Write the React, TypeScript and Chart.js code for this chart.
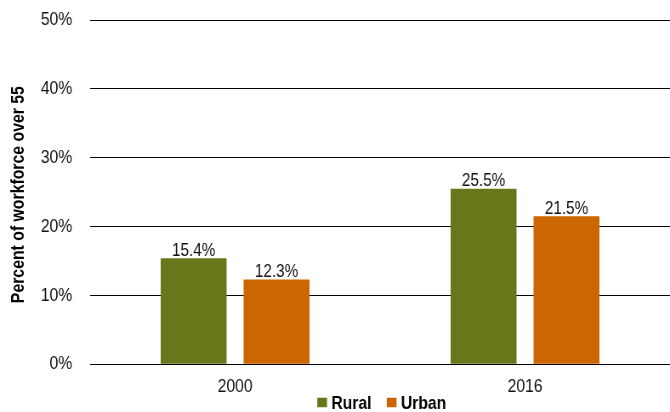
import React, { useEffect, useRef } from "react";
import { Chart, registerables } from "chart.js";

Chart.register(...registerables);

const categories = ["2000", "2016"];
const rural = [15.4, 25.5];
const urban = [12.3, 21.5];
const yTicks = [0, 10, 20, 30, 40, 50];
const seriesNames = ["Rural", "Urban"];
const seriesColors = ["#66781A", "#CC6600"];
const yTitle = "Percent of workforce over 55";

// The reference uses a narrow sans-serif; we emulate it by drawing on a wider
// canvas that is squeezed horizontally to the 670px display width.
const SQUEEZE = 0.85;
const CSS_W = 670;
const CSS_H = 412;
const LOGICAL_W = Math.round(CSS_W / SQUEEZE);

const FONT = "'Liberation Sans', Arial, sans-serif";

const labelPlugin = {
  id: "barLabels",
  afterDatasetsDraw(chart: any) {
    const ctx = chart.ctx;
    ctx.save();
    ctx.font = "18px " + FONT;
    ctx.fillStyle = "#111";
    ctx.textAlign = "center";
    ctx.textBaseline = "alphabetic";
    chart.data.datasets.forEach((ds: any, i: number) => {
      const meta = chart.getDatasetMeta(i);
      meta.data.forEach((bar: any, j: number) => {
        ctx.fillText(ds.data[j].toFixed(1) + "%", bar.x, bar.y - 2.5);
      });
    });
    ctx.restore();
  },
};

const titlePlugin = {
  id: "narrowYTitle",
  afterDraw(chart: any) {
    const ctx = chart.ctx;
    const area = chart.chartArea;
    ctx.save();
    ctx.font = "bold 18.6px " + FONT;
    ctx.fillStyle = "#000";
    ctx.textAlign = "center";
    ctx.textBaseline = "alphabetic";
    ctx.translate(24 / SQUEEZE, (area.top + area.bottom) / 2 + 2.5);
    ctx.rotate(-Math.PI / 2);
    ctx.scale(SQUEEZE, 1 / SQUEEZE);
    ctx.fillText(yTitle, 0, 0);
    ctx.restore();
  },
};

const legendPlugin = {
  id: "customLegend",
  afterDraw(chart: any) {
    const ctx = chart.ctx;
    const area = chart.chartArea;
    ctx.save();
    ctx.font = "bold 18.5px " + FONT;
    const boxW = 11.5;
    const boxH = 9.5;
    const gapText = 5;
    const gapItem = 18;
    const widths = seriesNames.map((n) => boxW + gapText + ctx.measureText(n).width);
    const total = widths.reduce((a, b) => a + b, 0) + gapItem * (seriesNames.length - 1);
    let x = (area.left + area.right) / 2 + 2 - total / 2;
    const cy = 402.5;
    ctx.textBaseline = "middle";
    ctx.textAlign = "left";
    seriesNames.forEach((n, i) => {
      ctx.fillStyle = seriesColors[i];
      ctx.fillRect(x, cy - boxH / 2, boxW, boxH);
      ctx.fillStyle = "#000";
      ctx.fillText(n, x + boxW + gapText, cy + 1);
      x += widths[i] + gapItem;
    });
    ctx.restore();
  },
};

export default function App() {
  const ref = useRef<HTMLCanvasElement>(null);
  useEffect(() => {
    const chart = new Chart(ref.current!, {
      type: "bar",
      data: {
        labels: categories,
        datasets: [
          { label: seriesNames[0], data: rural, backgroundColor: seriesColors[0] },
          { label: seriesNames[1], data: urban, backgroundColor: seriesColors[1] },
        ],
      },
      options: {
        animation: false,
        responsive: false,
        devicePixelRatio: 1,
        layout: { padding: { top: 20, left: 10, right: 0, bottom: 2.5 } },
        datasets: { bar: { categoryPercentage: 0.572, barPercentage: 0.795 } },
        plugins: {
          legend: { display: false },
          tooltip: { enabled: false },
        },
        scales: {
          x: {
            grid: { display: false, drawTicks: false },
            border: { display: false },
            ticks: {
              color: "#111",
              padding: 11.5,
              font: { family: FONT, size: 18.5 },
            },
          },
          y: {
            min: 0,
            max: 50,
            afterBuildTicks: (axis: any) => {
              axis.ticks = yTicks.map((v) => ({ value: v }));
            },
            afterFit: (axis: any) => {
              axis.width = 96;
              axis.paddingTop = 0;
              axis.paddingBottom = 0;
            },
            grid: { color: "#000", lineWidth: 1, drawTicks: false },
            border: { display: false },
            ticks: {
              color: "#111",
              padding: 21,
              font: { family: FONT, size: 18.5 },
              callback: (v: any) => v + "%",
            },
            title: { display: false },
          },
        },
      },
      plugins: [labelPlugin, titlePlugin, legendPlugin],
    });
    return () => chart.destroy();
  }, []);
  return (
    <div style={{ position: "absolute", left: 0, top: 0, width: CSS_W, height: CSS_H }}>
      <canvas
        ref={ref}
        width={LOGICAL_W}
        height={CSS_H}
        style={{ width: CSS_W + "px", height: CSS_H + "px", display: "block" }}
      />
    </div>
  );
}
